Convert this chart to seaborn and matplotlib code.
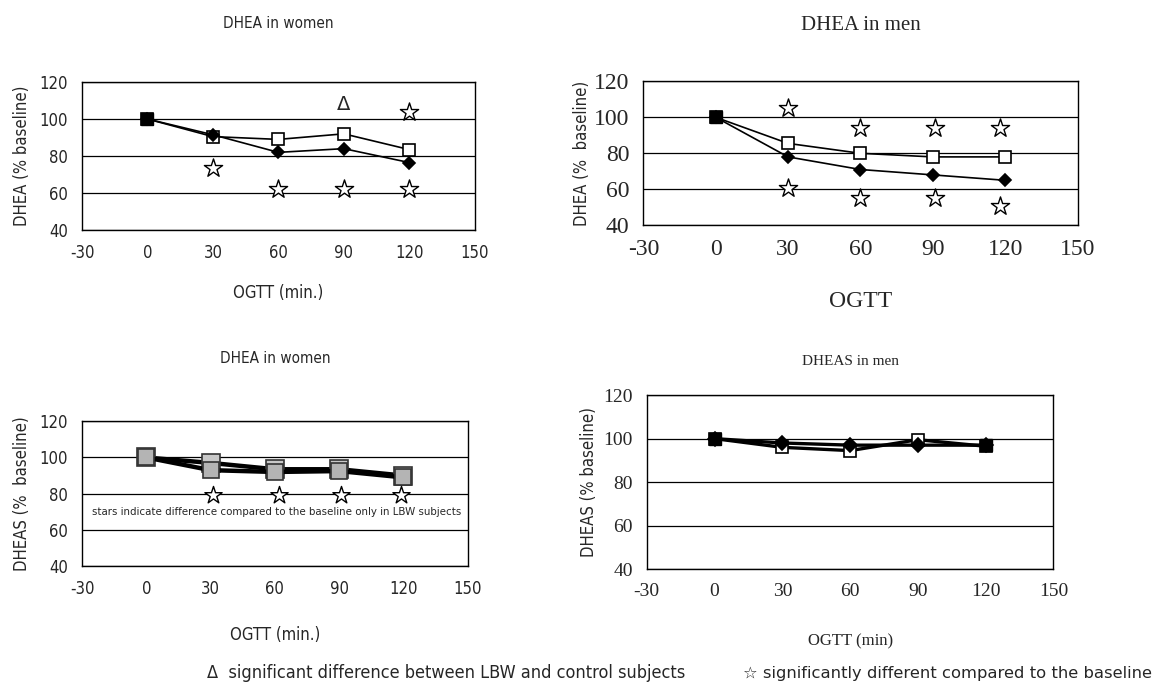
import numpy as np
import pandas as pd
import matplotlib
matplotlib.use("Agg")
import matplotlib.pyplot as plt
import seaborn as sns

# ---- data ----
times = [0, 30, 60, 90, 120]
x_ticks = [-30, 0, 30, 60, 90, 120, 150]
y_ticks = [40, 60, 80, 100, 120]

# DHEA in women
w_dhea_ctrl = [100, 90.5, 89, 92, 83.5]      # open squares
w_dhea_lbw = [100, 91.5, 82, 84, 76.5]       # filled diamonds
w_dhea_star_x = [30, 60, 90, 120, 120]
w_dhea_star_y = [73.5, 62, 62, 62, 104]
w_dhea_delta = (90, 108)

# DHEA in men
m_dhea_ctrl = [100, 85.5, 80, 78, 78]
m_dhea_lbw = [100, 78, 71, 68, 65]
m_dhea_star_x = [30, 30, 60, 60, 91, 91, 118, 118]
m_dhea_star_y = [105, 61, 94, 55, 94, 55, 94, 51]

# DHEAS in women
w_dheas_ctrl = [100, 97, 93.5, 93.5, 90]
w_dheas_lbw = [100, 93, 92, 92.5, 89]
w_dheas_star_x = [31, 62, 91, 119]
w_dheas_star_y = [79, 79, 79, 79]
w_dheas_note = "stars indicate difference compared to the baseline only in LBW subjects"

# DHEAS in men
m_dheas_ctrl = [100, 96, 94.5, 99.5, 96.5]
m_dheas_lbw = [100, 98, 97, 97, 97]

sns.set_style("white")
plt.rcParams['font.family'] = ['Liberation Serif', 'DejaVu Serif']
plt.rcParams['axes.unicode_minus'] = False
NARROW = ['DejaVu Sans']
SERIF = ['Liberation Serif', 'DejaVu Serif']
STRETCH = 'condensed'

fig = plt.figure(figsize=(11.55, 6.89), dpi=100)
ax1 = fig.add_axes([0.071, 0.666, 0.340, 0.215])
ax2 = fig.add_axes([0.557, 0.673, 0.376, 0.209])
ax3 = fig.add_axes([0.071, 0.1785, 0.334, 0.210])
ax4 = fig.add_axes([0.560, 0.174, 0.352, 0.2525])


def frame(ax, tick_family, tick_size, stretch='normal'):
    ax.set_xlim(-30, 150)
    ax.set_ylim(40, 120)
    ax.set_xticks(x_ticks)
    ax.set_yticks(y_ticks)
    ax.yaxis.grid(True, color='black', lw=0.9)
    ax.set_axisbelow(True)
    for s in ax.spines.values():
        s.set_color('black')
        s.set_linewidth(1.0)
    ax.tick_params(axis='both', direction='out', length=4, color='black',
                   labelsize=tick_size, pad=6)
    for lab in ax.get_xticklabels() + ax.get_yticklabels():
        lab.set_family(tick_family)
        lab.set_fontstretch(stretch)


def series(ax, y, marker, mfc, ms, lw, mec='black'):
    sns.lineplot(x=times, y=y, ax=ax, color='black', lw=lw, marker=marker,
                 markersize=ms, markerfacecolor=mfc, markeredgecolor=mec,
                 markeredgewidth=1.2, legend=False)


def stars(ax, xs, ys, s=190):
    sns.scatterplot(x=xs, y=ys, ax=ax, marker='*', s=s, facecolor='white',
                    edgecolor='black', linewidth=1.0, legend=False, zorder=5)


# Panel 1: DHEA in women
frame(ax1, NARROW, 12, STRETCH)
series(ax1, w_dhea_ctrl, 's', 'white', 8, 1.2)
series(ax1, w_dhea_lbw, 'D', 'black', 6, 1.2)
ax1.plot(0, 100, marker='s', color='black', ms=8)
stars(ax1, w_dhea_star_x, w_dhea_star_y)
ax1.text(w_dhea_delta[0], w_dhea_delta[1], "\u0394", ha='center', va='center',
         fontsize=14, family=NARROW)
ax1.set_title("DHEA in women", family=NARROW, fontstretch=STRETCH, fontsize=11, pad=39)
ax1.set_xlabel("OGTT (min.)", family=NARROW, fontstretch=STRETCH, fontsize=12, labelpad=16)
ax1.set_ylabel("DHEA (% baseline)", family=NARROW, fontstretch=STRETCH, fontsize=12, labelpad=6)

# Panel 2: DHEA in men
frame(ax2, SERIF, 17)
series(ax2, m_dhea_ctrl, 's', 'white', 9, 1.2)
series(ax2, m_dhea_lbw, 'D', 'black', 6, 1.2)
ax2.plot(0, 100, marker='s', color='black', ms=8)
stars(ax2, m_dhea_star_x, m_dhea_star_y)
ax2.set_title("DHEA in men", family=SERIF, fontsize=15, pad=37)
ax2.set_xlabel("OGTT", family=SERIF, fontsize=17, labelpad=22)
ax2.set_ylabel("DHEA (%  baseline)", family=NARROW, fontstretch=STRETCH, fontsize=12, labelpad=2)

# Panel 3: DHEAS in women
frame(ax3, NARROW, 12, STRETCH)
series(ax3, w_dheas_ctrl, 's', '#c8c8c8', 13, 3.2, mec='#333333')
series(ax3, w_dheas_lbw, 's', '#b4b4b4', 12, 3.2, mec='#333333')
stars(ax3, w_dheas_star_x, w_dheas_star_y, s=170)
ax3.text(61, 70, w_dheas_note, ha='center', va='center', fontsize=8.2,
         family=NARROW, fontstretch=STRETCH)
ax3.set_title("DHEA in women", family=NARROW, fontstretch=STRETCH, fontsize=11, pad=42)
ax3.set_xlabel("OGTT (min.)", family=NARROW, fontstretch=STRETCH, fontsize=12, labelpad=20)
ax3.set_ylabel("DHEAS (%  baseline)", family=NARROW, fontstretch=STRETCH, fontsize=12, labelpad=6)

# Panel 4: DHEAS in men
frame(ax4, SERIF, 14)
series(ax4, m_dheas_ctrl, 's', 'white', 9, 2.4)
series(ax4, m_dheas_lbw, 'D', 'black', 7, 2.4)
ax4.plot([0, 120], [100, 97], ls='none', marker='s', color='black', ms=8)
ax4.set_title("DHEAS in men", family=SERIF, fontsize=11, pad=22)
ax4.set_xlabel("OGTT (min)", family=SERIF, fontsize=12, labelpad=24)
ax4.set_ylabel("DHEAS (% baseline)", family=NARROW, fontstretch=STRETCH, fontsize=12, labelpad=4)

# footnote
fig.text(0.179, 0.023, "\u0394  significant difference between LBW and control subjects",
         family=NARROW, fontstretch=STRETCH, fontsize=13, va='center')
fig.text(0.643, 0.023, "\u2606 significantly different compared to the baseline",
         family=NARROW, fontsize=11.8, va='center')

fig.savefig("out.png", dpi=100)
